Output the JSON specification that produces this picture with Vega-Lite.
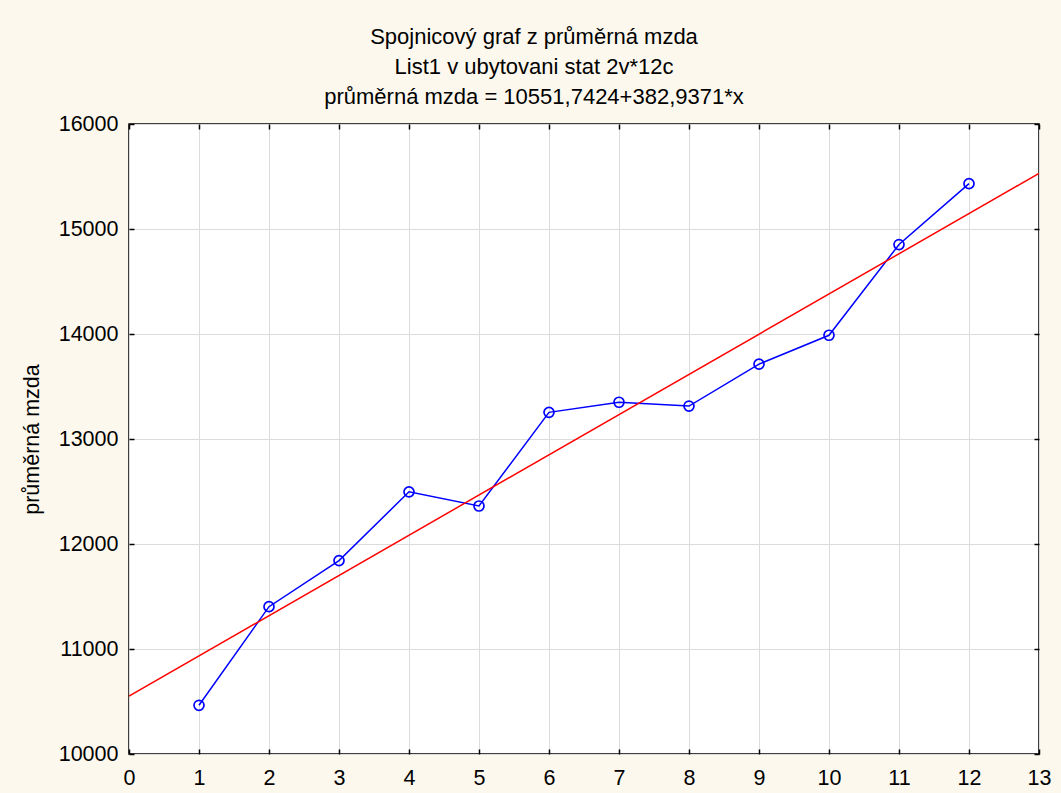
{
  "$schema": "https://vega.github.io/schema/vega-lite/v6.json",
  "autosize": "none",
  "width": 910,
  "height": 630,
  "padding": {"left": 129, "top": 124, "right": 22, "bottom": 39},
  "background": "#fdf8ed",
  "config": {
    "font": "Liberation Sans",
    "view": {"stroke": "#000000", "strokeWidth": 1.5, "fill": "#ffffff"},
    "axis": {
      "domain": false,
      "labelFont": "Liberation Sans",
      "labelFontSize": 21.5,
      "labelColor": "#000000",
      "titleFont": "Liberation Sans",
      "titleFontSize": 21.5,
      "titleFontWeight": "normal",
      "titleColor": "#000000",
      "tickColor": "#000000",
      "tickWidth": 1.5,
      "gridColor": "#dcdcdc",
      "gridWidth": 1,
      "gridOpacity": 1
    }
  },
  "title": {
    "text": ["Spojnicový graf z průměrná mzda", "List1 v ubytovani stat 2v*12c", "průměrná mzda = 10551,7424+382,9371*x"],
    "font": "Liberation Sans",
    "fontSize": 22,
    "fontWeight": "normal",
    "color": "#000000",
    "lineHeight": 30,
    "anchor": "middle",
    "baseline": "bottom",
    "dx": -50,
    "offset": -18
  },
  "datasets": {
    "obs": [
      {"x": 1, "mzda": 10464},
      {"x": 2, "mzda": 11403},
      {"x": 3, "mzda": 11842},
      {"x": 4, "mzda": 12497},
      {"x": 5, "mzda": 12362},
      {"x": 6, "mzda": 13254},
      {"x": 7, "mzda": 13350},
      {"x": 8, "mzda": 13314},
      {"x": 9, "mzda": 13713},
      {"x": 10, "mzda": 13988},
      {"x": 11, "mzda": 14852},
      {"x": 12, "mzda": 15432}
    ],
    "fit": [
      {"x": 0, "mzda": 10551.7424},
      {"x": 13, "mzda": 15529.9247}
    ]
  },
  "layer": [
    {
      "data": {"name": "obs"},
      "mark": {
        "type": "line",
        "color": "#0000ff",
        "strokeWidth": 1.5,
        "point": {"filled": false, "stroke": "#0000ff", "fill": null, "size": 100, "strokeWidth": 1.7}
      },
      "encoding": {
        "x": {
          "field": "x", "type": "quantitative",
          "scale": {"domain": [0, 13], "nice": false, "zero": false},
          "axis": {"orient": "bottom", "values": [0,1,2,3,4,5,6,7,8,9,10,11,12,13], "format": "d", "title": null, "grid": true, "tickSize": -5, "labelPadding": 18, "labelFlush": false, "labelOverlap": false}
        },
        "y": {
          "field": "mzda", "type": "quantitative",
          "scale": {"domain": [10000, 16000], "nice": false, "zero": false},
          "axis": {"orient": "left", "values": [10000,11000,12000,13000,14000,15000,16000], "format": "d", "title": "průměrná mzda", "grid": true, "tickSize": -5, "labelPadding": 16, "titlePadding": 15, "labelFlush": false, "labelOverlap": false}
        }
      }
    },
    {
      "data": {"name": "fit"},
      "mark": {"type": "line", "color": "#ff0000", "strokeWidth": 1.5, "clip": true},
      "encoding": {
        "x": {
          "field": "x", "type": "quantitative",
          "axis": {"orient": "top", "values": [0,1,2,3,4,5,6,7,8,9,10,11,12,13], "title": null, "labels": false, "grid": false, "tickSize": -5}
        },
        "y": {
          "field": "mzda", "type": "quantitative",
          "axis": {"orient": "right", "values": [10000,11000,12000,13000,14000,15000,16000], "title": null, "labels": false, "grid": false, "tickSize": -5}
        }
      }
    }
  ],
  "resolve": {"axis": {"x": "independent", "y": "independent"}}
}
